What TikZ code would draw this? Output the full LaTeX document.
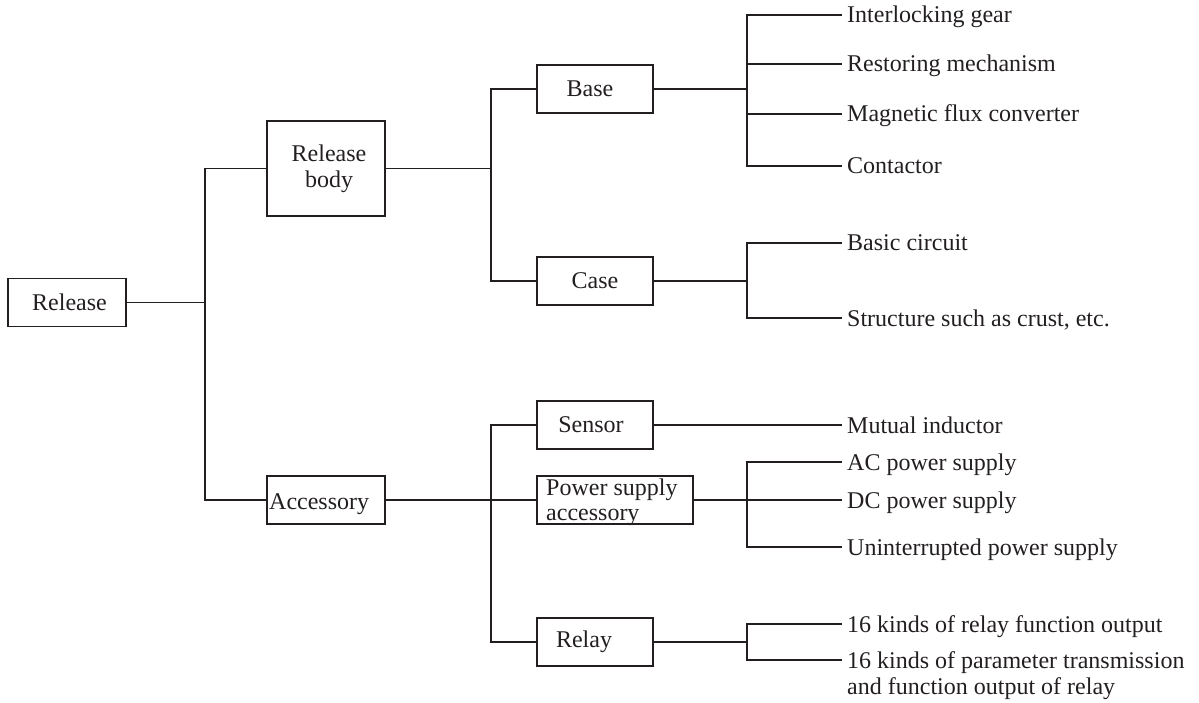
\documentclass[tikz,border=0pt]{standalone}
\usepackage{fontspec}
\setmainfont{Liberation Serif}
\definecolor{ink}{RGB}{35,31,32}
\begin{document}
\begin{tikzpicture}[x=1pt,y=-1pt,
  txt/.style={font=\fontsize{24}{26}\selectfont, text=ink},
  box/.style={txt, draw=ink, line width=1.6pt, minimum height=48pt, inner sep=0pt, align=center},
  wire/.style={draw=ink, line width=1.6pt},
  leaf/.style={txt, anchor=west, inner xsep=5pt, inner ysep=0pt, text height=16pt, text depth=0pt},
  btxt/.style={txt, anchor=west, inner sep=0pt, text height=16pt, text depth=0pt}]
\useasboundingbox (0,0) rectangle (1199,703);

% boxes
\node[box, minimum width=118pt] (rel) at (67,302.5) {\hspace*{5pt}Release};
\node[box, minimum width=118pt, minimum height=95pt] (body) at (326,168.5) {\hspace*{6pt}Release\\\hspace*{6pt}body};
\node[box, minimum width=118pt] (acc) at (326,500) {};
\node[btxt] (acct) at (269,501) {Accessory};
\node[box, minimum width=116pt] (base) at (595,89) {Base\hspace*{10pt}};
\node[box, minimum width=116pt] (case) at (595,281) {Case};
\node[box, minimum width=116pt] (sens) at (595,425) {Sensor\hspace*{8pt}};
\node[box, minimum width=156pt] (psa) at (615,500) {};
\node[btxt] (psat) at (546,487) {\fontsize{24}{25}\selectfont\begin{tabular}[t]{@{}l@{}}Power supply\\accessory\end{tabular}};
\node[box, minimum width=116pt] (relay) at (595,642) {Relay\hspace*{22pt}};

% leaves
\node[leaf] (l1) at (842,15) {Interlocking gear};
\node[leaf] (l2) at (842,64) {Restoring mechanism};
\node[leaf] (l3) at (842,114) {Magnetic flux converter};
\node[leaf] (l4) at (842,166) {Contactor};
\node[leaf] (c1) at (842,243) {Basic circuit};
\node[leaf] (c2) at (842,318) {Structure such as crust, etc.};
\node[leaf] (s1) at (842,425) {Mutual inductor};
\node[leaf] (p1) at (842,462) {AC power supply};
\node[leaf] (p2) at (842,500) {DC power supply};
\node[leaf] (p3) at (842,547) {Uninterrupted power supply};
\node[leaf] (r1) at (842,624) {16 kinds of relay function output};
\node[leaf] (r2) at (842,660) {\begin{tabular}[t]{@{}l@{}}16 kinds of parameter transmission\\and function output of relay\end{tabular}};

% junctions
\coordinate (j1) at (205,302.5);
\coordinate (j2) at (491,168.5);
\coordinate (j3) at (491,500);
\coordinate (k1) at (747,89);
\coordinate (k2) at (747,281);
\coordinate (k3) at (747,500);
\coordinate (k4) at (747,642);

% connectors
\draw[wire] (rel.east) -- (j1);
\draw[wire] (body.west) -| (j1) |- (acc.west);
\draw[wire] (body.east) -- (j2);
\draw[wire] (base.west) -| (j2) |- (case.west);
\draw[wire] (acc.east) -- (j3) -- (psa.west);
\draw[wire] (sens.west) -| (j3) |- (relay.west);
\draw[wire] (base.east) -- (k1);
\draw[wire] (l1.west) -| (k1) |- (l4.west);
\draw[wire] (k1 |- l2.west) -- (l2.west);
\draw[wire] (k1 |- l3.west) -- (l3.west);
\draw[wire] (case.east) -- (k2);
\draw[wire] (c1.west) -| (k2) |- (c2.west);
\draw[wire] (sens.east) -- (s1.west);
\draw[wire] (psa.east) -- (k3) -- (p2.west);
\draw[wire] (p1.west) -| (k3) |- (p3.west);
\draw[wire] (relay.east) -- (k4);
\draw[wire] (r1.west) -| (k4) |- (r2.west);
\end{tikzpicture}
\end{document}
